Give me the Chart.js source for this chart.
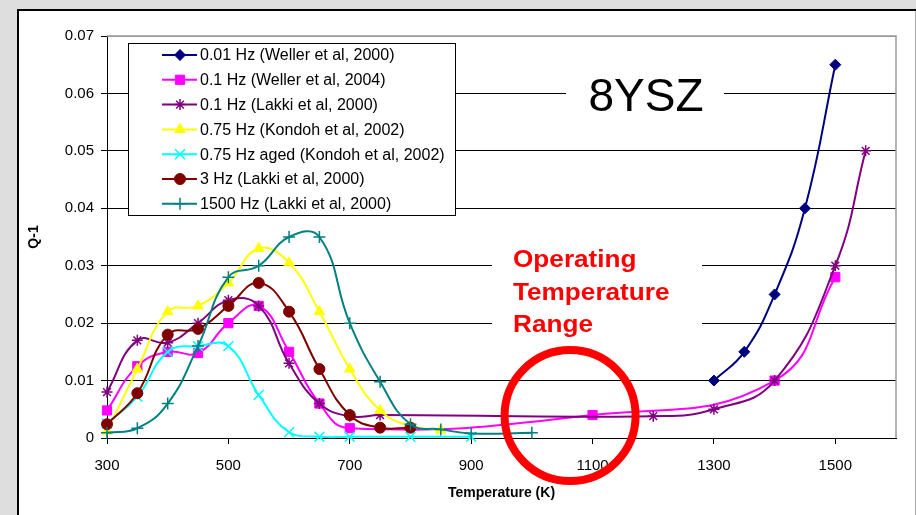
<!DOCTYPE html>
<html>
<head>
<meta charset="utf-8">
<title>8YSZ internal friction</title>
<script src="https://cdn.jsdelivr.net/npm/chart.js@4.4.1/dist/chart.umd.min.js"></script>
<style>
  html, body { margin: 0; padding: 0; background: #dedede; }
  #wrap { width: 916px; height: 515px; }
</style>
</head>
<body>
<div id="wrap"><canvas id="frictionChart" width="916" height="515"></canvas></div>
<script>
// Internal friction Q-1 of 8YSZ vs temperature, from several sources
const weller2000T = [1300, 1350, 1400, 1450, 1500];
const weller2000Q = [0.010, 0.015, 0.025, 0.040, 0.065];

const weller2004T = [300, 350, 400, 450, 500, 550, 600, 650, 700, 1100, 1400, 1500];
const weller2004Q = [0.0048, 0.0125, 0.015, 0.0148, 0.020, 0.023, 0.015, 0.006, 0.0017, 0.004, 0.010, 0.028];

const lakkiLowT = [300, 350, 400, 450, 500, 550, 600, 650, 700, 750, 1200, 1300, 1400, 1500, 1550];
const lakkiLowQ = [0.008, 0.017, 0.0166, 0.020, 0.024, 0.023, 0.013, 0.006, 0.0038, 0.004, 0.0038, 0.005, 0.010, 0.030, 0.050];

const kondohT = [300, 350, 400, 450, 500, 550, 600, 650, 700, 750, 800, 850];
const kondohQ = [0.0012, 0.012, 0.022, 0.023, 0.027, 0.033, 0.0305, 0.022, 0.012, 0.0048, 0.0021, 0.0014];

const kondohAgedT = [300, 350, 400, 450, 500, 550, 600, 650, 700, 800, 900];
const kondohAgedQ = [0.0025, 0.0072, 0.015, 0.016, 0.016, 0.0075, 0.001, 0.0002, 0.0002, 0.0002, 0.0002];

const lakki3T = [300, 350, 400, 450, 500, 550, 600, 650, 700, 750, 800];
const lakki3Q = [0.0024, 0.0078, 0.018, 0.019, 0.023, 0.027, 0.022, 0.012, 0.004, 0.0018, 0.0018];

const lakki1500T = [300, 350, 400, 450, 500, 550, 600, 650, 700, 750, 800, 850, 900, 1000];
const lakki1500Q = [0.0009, 0.0017, 0.006, 0.016, 0.028, 0.030, 0.035, 0.035, 0.020, 0.0098, 0.0024, 0.0015, 0.0008, 0.0009];

const seriesLabels = [
    '0.01 Hz (Weller et al, 2000)',
    '0.1 Hz (Weller et al, 2004)',
    '0.1 Hz (Lakki et al, 2000)',
    '0.75 Hz (Kondoh et al, 2002)',
    '0.75 Hz aged (Kondoh et al, 2002)',
    '3 Hz (Lakki et al, 2000)',
    '1500 Hz (Lakki et al, 2000)'
];
const seriesTemps = [weller2000T, weller2004T, lakkiLowT, kondohT, kondohAgedT, lakki3T, lakki1500T];
const seriesQ = [weller2000Q, weller2004Q, lakkiLowQ, kondohQ, kondohAgedQ, lakki3Q, lakki1500Q];

const xTickValues = [300, 500, 700, 900, 1100, 1300, 1500];
const xTickLabels = ['300', '500', '700', '900', '1100', '1300', '1500'];
const yTickValues = [0, 0.01, 0.02, 0.03, 0.04, 0.05, 0.06, 0.07];
const yTickLabels = ['0', '0.01', '0.02', '0.03', '0.04', '0.05', '0.06', '0.07'];

const titleNote = '8YSZ';
const rangeNote = ['Operating', 'Temperature', 'Range'];
// centre of the highlighted operating window (K, Q-1)
const rangeCentreT = 1063;
const rangeCentreQ = 0.0039;

const FONT = "'Liberation Sans', Arial, Helvetica, sans-serif";

const seriesLook = [
    { color: '#000080', pointStyle: 'rectRot', radius: 5.5, pointBorder: 1 },
    { color: '#ff00ff', pointStyle: 'rect', radius: 6.5, pointBorder: 1 },
    { color: '#800080', pointStyle: 'star', radius: 5.5, pointBorder: 1.5 },
    { color: '#ffff00', pointStyle: 'triangle', radius: 6, pointBorder: 1 },
    { color: '#00ffff', pointStyle: 'crossRot', radius: 7, pointBorder: 1.5 },
    { color: '#800000', pointStyle: 'circle', radius: 5.5, pointBorder: 1 },
    { color: '#008080', pointStyle: 'cross', radius: 6, pointBorder: 1.5 }
];

const datasets = seriesLabels.map(function(label, i) {
    const look = seriesLook[i];
    return {
        label: label,
        data: seriesTemps[i].map((t, k) => ({ x: t, y: seriesQ[i][k] })),
        showLine: true,
        tension: 0.45,
        borderColor: look.color,
        backgroundColor: look.color,
        borderWidth: 2,
        pointStyle: look.pointStyle,
        pointRadius: look.radius,
        pointHoverRadius: look.radius,
        pointBorderWidth: look.pointBorder,
        pointBackgroundColor: look.color,
        pointBorderColor: look.color,
        clip: false,
        // later series sit on top, like the spreadsheet original
        order: seriesLabels.length - i
    };
});

function markerAt(ctx, look, x, y) {
    ctx.save();
    ctx.fillStyle = look.color;
    ctx.strokeStyle = look.color;
    ctx.lineWidth = look.pointBorder;
    Chart.helpers.drawPoint(ctx, {
        pointStyle: look.pointStyle,
        radius: look.radius,
        rotation: 0,
        borderWidth: look.pointBorder
    }, x, y);
    ctx.restore();
}

// grey page, white chart sheet with its frame
const sheetPlugin = {
    id: 'sheet',
    beforeDraw(chart) {
        const ctx = chart.ctx;
        ctx.save();
        ctx.fillStyle = '#dedede';
        ctx.fillRect(0, 0, chart.width, chart.height);
        ctx.fillStyle = '#ffffff';
        ctx.fillRect(18, 10, 897, chart.height - 10);
        ctx.strokeStyle = '#000000';
        ctx.lineWidth = 2;
        ctx.beginPath();
        ctx.moveTo(18, chart.height);
        ctx.lineTo(18, 10);
        ctx.lineTo(chart.width, 10);
        ctx.stroke();
        ctx.strokeStyle = '#a8a8a8';
        ctx.lineWidth = 1;
        ctx.beginPath();
        ctx.moveTo(915.5, 11);
        ctx.lineTo(915.5, chart.height);
        ctx.stroke();
        ctx.restore();
    }
};

// plot border, legend box and the two notes
const notesPlugin = {
    id: 'notes',
    beforeDatasetsDraw(chart) {
        const ctx = chart.ctx;
        const a = chart.chartArea;
        ctx.save();

        ctx.strokeStyle = '#999999';
        ctx.lineWidth = 1.5;
        ctx.beginPath();
        ctx.moveTo(a.left, a.top);
        ctx.lineTo(a.right, a.top);
        ctx.lineTo(a.right, a.bottom);
        ctx.stroke();

        // legend
        const lx = 128, ly = 43, lw = 327, lh = 172;
        ctx.fillStyle = '#ffffff';
        ctx.fillRect(lx, ly, lw, lh);
        ctx.strokeStyle = '#000000';
        ctx.lineWidth = 1;
        ctx.strokeRect(lx + 0.5, ly + 0.5, lw, lh);
        ctx.font = '16px ' + FONT;
        ctx.textBaseline = 'middle';
        ctx.textAlign = 'left';
        seriesLabels.forEach(function(label, i) {
            const y = ly + 12 + i * 24.8;
            const look = seriesLook[i];
            ctx.strokeStyle = look.color;
            ctx.lineWidth = 2;
            ctx.beginPath();
            ctx.moveTo(162, y);
            ctx.lineTo(197, y);
            ctx.stroke();
            markerAt(ctx, look, 180, y);
            ctx.fillStyle = '#000000';
            ctx.fillText(label, 200, y + 1);
        });

        // material name
        ctx.fillStyle = '#ffffff';
        ctx.fillRect(566, 64, 158, 56);
        ctx.fillStyle = '#000000';
        ctx.font = '46px ' + FONT;
        ctx.textAlign = 'center';
        ctx.textBaseline = 'alphabetic';
        ctx.fillText(titleNote, 646, 111);

        // operating range caption
        ctx.fillStyle = '#ffffff';
        ctx.fillRect(492, 242, 210, 100);
        ctx.fillStyle = '#ff0000';
        ctx.font = 'bold 24px ' + FONT;
        ctx.textAlign = 'left';
        rangeNote.forEach(function(line, i) {
            ctx.save();
            ctx.translate(513, 267 + i * 32.5);
            ctx.scale(1.09, 1);
            ctx.fillText(line, 0, 0);
            ctx.restore();
        });
        ctx.restore();
    },
    afterDraw(chart) {
        const ctx = chart.ctx;
        const cx = chart.scales.x.getPixelForValue(rangeCentreT);
        const cy = chart.scales.y.getPixelForValue(rangeCentreQ);
        ctx.save();
        ctx.strokeStyle = '#ff0000';
        ctx.lineWidth = 8;
        ctx.beginPath();
        ctx.arc(cx, cy, 65.5, 0, Math.PI * 2);
        ctx.stroke();
        ctx.restore();
    }
};

const ctx = document.getElementById('frictionChart').getContext('2d');
new Chart(ctx, {
    type: 'scatter',
    data: { datasets: datasets },
    options: {
        responsive: false,
        animation: false,
        devicePixelRatio: 1,
        layout: { padding: { left: 17, top: 36, right: 20, bottom: 0 } },
        plugins: {
            legend: { display: false },
            tooltip: { enabled: false }
        },
        scales: {
            x: {
                type: 'linear',
                min: 300,
                max: 1600,
                afterBuildTicks: function(scale) {
                    scale.ticks = xTickValues.map(v => ({ value: v }));
                },
                afterFit: function(scale) { scale.height = 77; },
                grid: {
                    drawOnChartArea: false,
                    drawTicks: true,
                    tickLength: 6,
                    tickColor: '#000000'
                },
                border: { color: '#000000', width: 1 },
                ticks: {
                    color: '#000000',
                    font: { family: FONT, size: 15 },
                    padding: 13,
                    maxRotation: 0,
                    callback: function(value, index) { return xTickLabels[index]; }
                },
                title: {
                    display: true,
                    text: 'Temperature (K)',
                    color: '#000000',
                    font: { family: FONT, size: 14, weight: 'bold' },
                    padding: { top: 0, bottom: 13 }
                }
            },
            y: {
                type: 'linear',
                min: 0,
                max: 0.07,
                afterBuildTicks: function(scale) {
                    scale.ticks = yTickValues.map(v => ({ value: v }));
                },
                afterFit: function(scale) { scale.width = 90; },
                grid: {
                    color: function(c) {
                        return c.tick && c.tick.value === 0.07 ? '#999999' : '#000000';
                    },
                    lineWidth: 1,
                    drawTicks: true,
                    tickLength: 6,
                    tickColor: '#000000'
                },
                border: { color: '#000000', width: 1 },
                ticks: {
                    color: '#000000',
                    font: { family: FONT, size: 15 },
                    padding: 7,
                    callback: function(value, index) { return yTickLabels[index]; }
                },
                title: {
                    display: true,
                    text: 'Q-1',
                    color: '#000000',
                    font: { family: FONT, size: 14, weight: 'bold' },
                    padding: { top: 9, bottom: 0 }
                }
            }
        }
    },
    plugins: [sheetPlugin, notesPlugin]
});
</script>
</body>
</html>
